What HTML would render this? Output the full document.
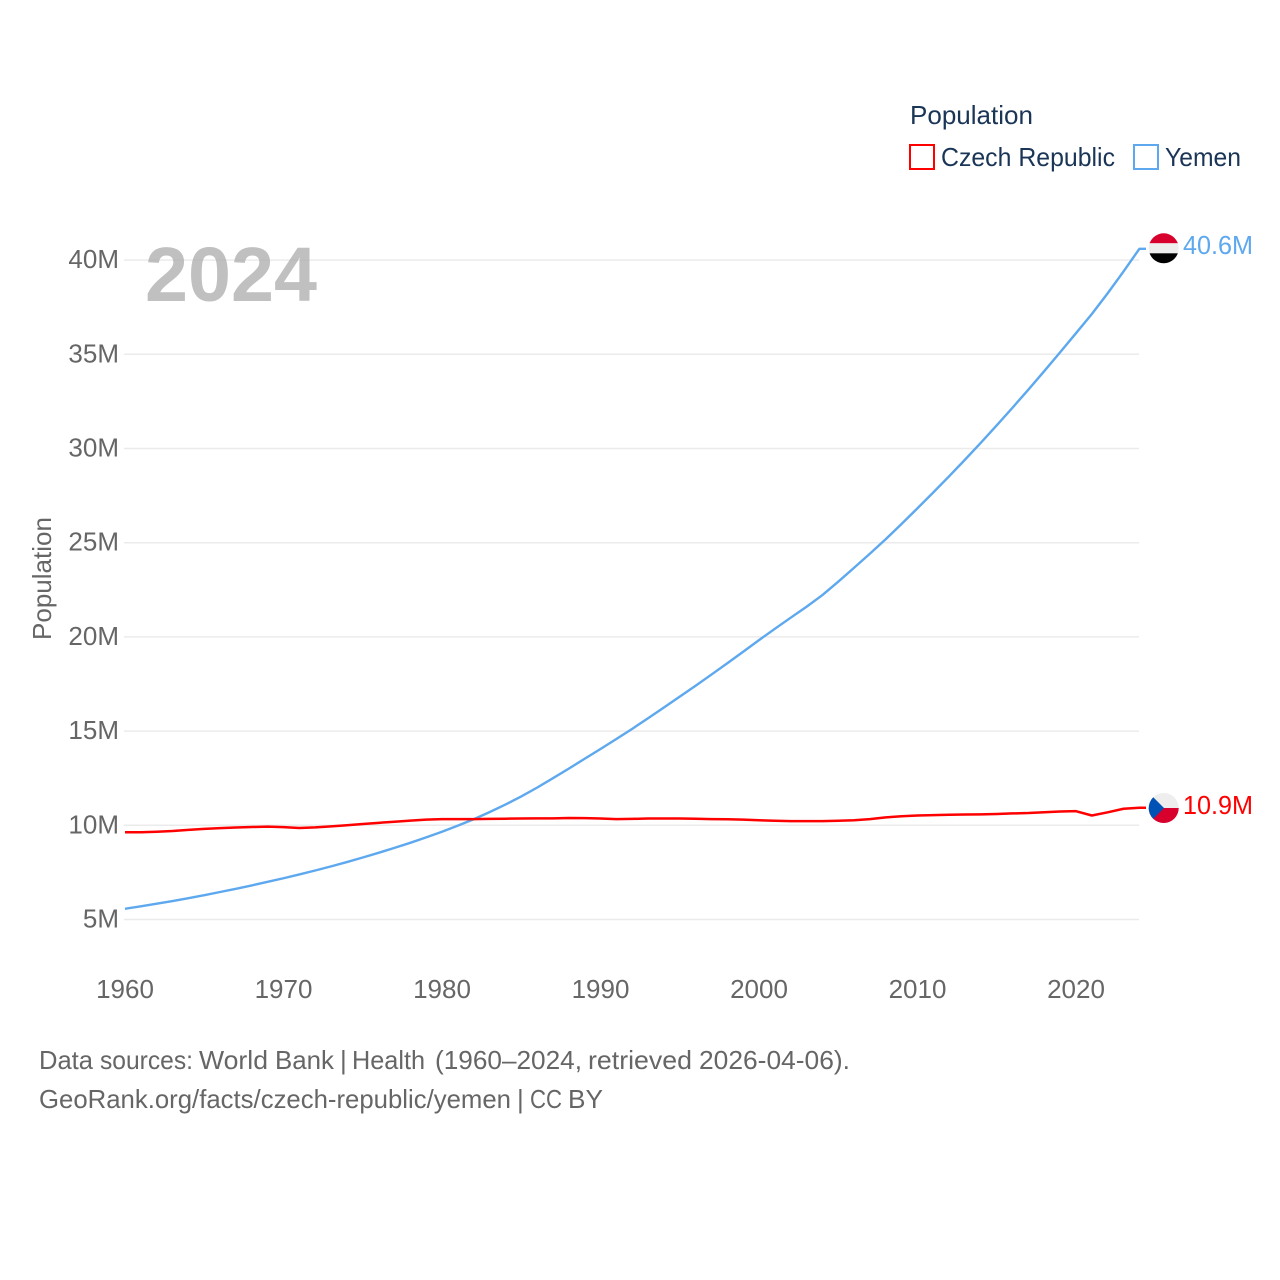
<!DOCTYPE html>
<html lang="en">
<head>
<meta charset="utf-8">
<title>Population: Czech Republic and Yemen</title>
<style>
html,body{margin:0;padding:0;background:#fff;}
svg{display:block;font-family:"Liberation Sans",sans-serif;}
</style>
</head>
<body>
<svg id="chart" xmlns="http://www.w3.org/2000/svg" width="1280" height="1280" viewBox="0 0 1280 1280">
  <defs>
    <clipPath id="flag-clip-ye"><circle cx="1163.7" cy="248.3" r="15"/></clipPath>
    <clipPath id="flag-clip-cz"><circle cx="1163.7" cy="808" r="15"/></clipPath>
  </defs>
  <rect x="0" y="0" width="1280" height="1280" fill="#fff"/>

  <g id="grid"></g>
  <g id="y-ticks"></g>
  <g id="x-ticks"></g>

  <text x="145" y="301" font-size="77" font-weight="700" fill="#a8a8a8" fill-opacity="0.72" textLength="172" lengthAdjust="spacingAndGlyphs">2024</text>

  <text transform="translate(51,640) rotate(-90)" font-size="26" fill="#666" textLength="123" lengthAdjust="spacingAndGlyphs">Population</text>

  <g id="series"></g>

  <g clip-path="url(#flag-clip-ye)">
    <rect x="1148" y="233" width="32" height="10.3" fill="#d8002c"/>
    <rect x="1148" y="243.3" width="32" height="10" fill="#eeeeee"/>
    <rect x="1148" y="253.3" width="32" height="11" fill="#000"/>
  </g>
  <g clip-path="url(#flag-clip-cz)">
    <rect x="1148" y="792" width="32" height="16" fill="#eeeeee"/>
    <rect x="1148" y="808" width="32" height="17" fill="#d8002c"/>
    <polygon points="1148,792 1164,808 1148,824" fill="#0052b4"/>
  </g>

  <g id="end-labels"></g>

  <g>
    <text x="910" y="124" font-size="26" fill="#1a3556" textLength="123" lengthAdjust="spacingAndGlyphs">Population</text>
    <g>
      <rect x="910" y="145" width="24" height="24" fill="#fff" stroke="#ff0000" stroke-width="2"/>
      <text x="941" y="166" font-size="26" fill="#1a3556" textLength="174" lengthAdjust="spacingAndGlyphs">Czech Republic</text>
    </g>
    <g>
      <rect x="1134" y="145" width="24" height="24" fill="#fff" stroke="#5da8ee" stroke-width="2"/>
      <text x="1165" y="166" font-size="26" fill="#1a3556" textLength="76" lengthAdjust="spacingAndGlyphs">Yemen</text>
    </g>
  </g>

  <g font-size="26" fill="#666">
    <text x="39" y="1069" textLength="54" lengthAdjust="spacingAndGlyphs">Data</text>
    <text x="100" y="1069" textLength="93" lengthAdjust="spacingAndGlyphs">sources:</text>
    <text x="199" y="1069" textLength="69" lengthAdjust="spacingAndGlyphs">World</text>
    <text x="275" y="1069" textLength="59" lengthAdjust="spacingAndGlyphs">Bank</text>
    <text x="340" y="1069">|</text>
    <text x="352" y="1069" textLength="73" lengthAdjust="spacingAndGlyphs">Health</text>
    <text x="435" y="1069" textLength="147" lengthAdjust="spacingAndGlyphs">(1960–2024,</text>
    <text x="588" y="1069" textLength="104" lengthAdjust="spacingAndGlyphs">retrieved</text>
    <text x="699" y="1069" textLength="151" lengthAdjust="spacingAndGlyphs">2026-04-06).</text>
  </g>
  <g font-size="26" fill="#666">
    <text x="39" y="1108" textLength="472" lengthAdjust="spacingAndGlyphs">GeoRank.org/facts/czech-republic/yemen</text>
    <text x="517" y="1108">|</text>
    <text x="530" y="1108" textLength="32" lengthAdjust="spacingAndGlyphs">CC</text>
    <text x="568" y="1108" textLength="35" lengthAdjust="spacingAndGlyphs">BY</text>
  </g>
</svg>
<script>
const firstYear = 1960;
const xTickYears = [1960, 1970, 1980, 1990, 2000, 2010, 2020];
const yTickValues = [5, 10, 15, 20, 25, 30, 35, 40];
const yTickLabels = ["5M", "10M", "15M", "20M", "25M", "30M", "35M", "40M"];
const czechValues = [9.63,9.63,9.66,9.70,9.76,9.81,9.85,9.88,9.91,9.93,
  9.90,9.86,9.89,9.94,10.00,10.07,10.13,10.19,10.25,10.30,
  10.33,10.33,10.33,10.34,10.35,10.36,10.37,10.37,10.39,10.38,
  10.36,10.33,10.34,10.36,10.36,10.36,10.35,10.33,10.32,10.30,
  10.27,10.24,10.22,10.22,10.22,10.24,10.27,10.33,10.42,10.48,
  10.52,10.54,10.56,10.57,10.58,10.60,10.63,10.65,10.69,10.73,
  10.75,10.52,10.69,10.88,10.93];
const yemenValues = [5.57,5.70,5.84,5.98,6.13,6.29,6.46,6.63,6.81,7.00,
  7.19,7.39,7.60,7.82,8.05,8.29,8.54,8.80,9.07,9.36,
  9.66,9.98,10.32,10.70,11.10,11.53,12.00,12.50,13.01,13.53,
  14.05,14.58,15.12,15.68,16.25,16.83,17.41,18.00,18.60,19.21,
  19.83,20.43,21.02,21.60,22.22,22.93,23.67,24.42,25.19,26.00,
  26.83,27.67,28.53,29.41,30.31,31.23,32.17,33.13,34.11,35.11,
  36.12,37.14,38.24,39.40,40.60];
const czechEndLabel = "10.9M";
const yemenEndLabel = "40.6M";

const NS = "http://www.w3.org/2000/svg";
function xScale(year) { return 125 + (year - 1960) * 15.85; }
function yScale(v) { return 919.5 - (v - 5) * 18.84; }
function make(tag, parentId, attrs, text) {
  const el = document.createElementNS(NS, tag);
  for (const k in attrs) el.setAttribute(k, attrs[k]);
  if (text !== undefined) el.textContent = text;
  document.getElementById(parentId).appendChild(el);
  return el;
}

yTickValues.forEach(function (v, i) {
  const y = yScale(v);
  const line = make("line", "grid", {x1: 124, x2: 1139, y1: y, y2: y, stroke: "#ebebeb", "stroke-width": 1.5});
  
  
  const lab = make("text", "y-ticks", {x: 119, y: y + 8, "text-anchor": "end", "font-size": 26, fill: "#666"}, yTickLabels[i]);
  
  
});

xTickYears.forEach(function (yr) {
  const lab = make("text", "x-ticks", {x: xScale(yr), y: 998, "text-anchor": "middle", "font-size": 26, fill: "#666"}, String(yr));
  
  
});

function linePoints(values) {
  const pts = values.map(function (v, i) {
    return xScale(firstYear + i).toFixed(2) + "," + yScale(v).toFixed(2);
  });
  const last = yScale(values[values.length - 1]).toFixed(2);
  pts.push("1146," + last);
  return pts.join(" ");
}

const yemenLine = make("polyline", "series", {points: linePoints(yemenValues), fill: "none", stroke: "#5da8ee", "stroke-width": 2.4, "stroke-linejoin": "round"});



const czechLine = make("polyline", "series", {points: linePoints(czechValues), fill: "none", stroke: "#ff0000", "stroke-width": 2.5, "stroke-linejoin": "round"});



const yemenLabel = make("text", "end-labels", {x: 1183, y: yScale(yemenValues[yemenValues.length - 1]) + 5, "font-size": 26, fill: "#5da8ee", textLength: 70, lengthAdjust: "spacingAndGlyphs"}, yemenEndLabel);



const czechLabel = make("text", "end-labels", {x: 1183, y: yScale(czechValues[czechValues.length - 1]) + 6, "font-size": 26, fill: "#ff0000", textLength: 70, lengthAdjust: "spacingAndGlyphs"}, czechEndLabel);


</script>
</body>
</html>
